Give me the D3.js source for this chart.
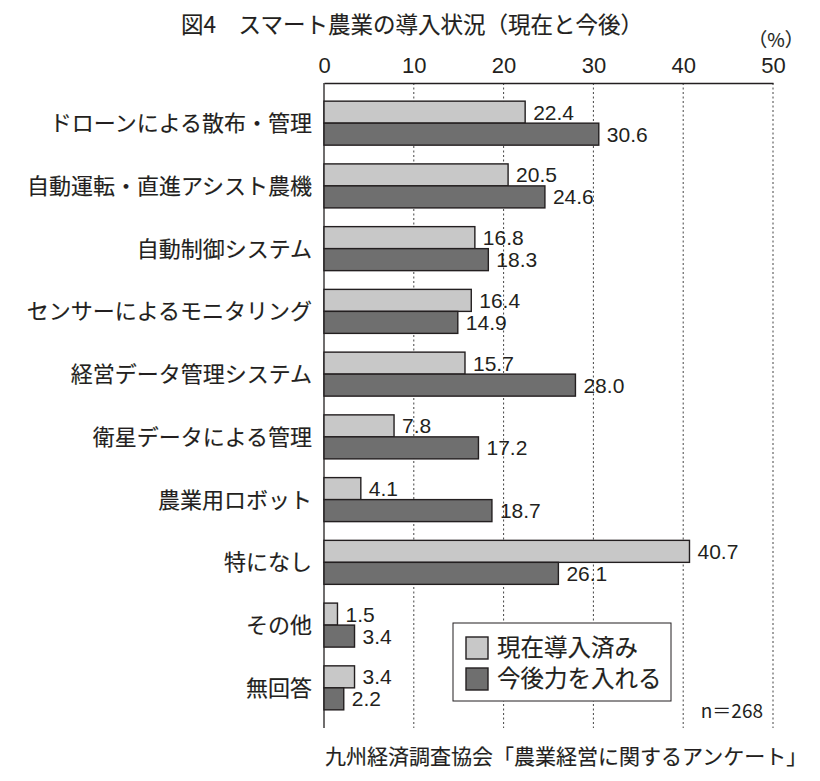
<!DOCTYPE html>
<html>
<head>
<meta charset="utf-8">
<script src="https://cdn.jsdelivr.net/npm/d3@7"></script>
<style>
  body { margin: 0; background: #fff; }
  text { fill: #231f20; }
  .jp { stroke: #231f20; stroke-width: 0.15px; }
</style>
</head>
<body>
<svg id="chart" width="820" height="781"></svg>
<script>
// categories, top to bottom
var categories = ["ドローンによる散布・管理", "自動運転・直進アシスト農機", "自動制御システム",
  "センサーによるモニタリング", "経営データ管理システム", "衛星データによる管理",
  "農業用ロボット", "特になし", "その他", "無回答"];
// 現在導入済み
var current = [22.4, 20.5, 16.8, 16.4, 15.7, 7.8, 4.1, 40.7, 1.5, 3.4];
// 今後力を入れる
var future = [30.6, 24.6, 18.3, 14.9, 28.0, 17.2, 18.7, 26.1, 3.4, 2.2];
var seriesNames = ["現在導入済み", "今後力を入れる"];
var tickValues = [0, 10, 20, 30, 40, 50];

var jp = "'Noto Sans CJK JP', sans-serif";
var num = "'Liberation Sans', Arial, sans-serif";
var colors = ["#c8c8c8", "#6f6f6f"];

var svg = d3.select("#chart");
// plot area edges
var plotLeft = 324, plotRight = 773, plotTop = 83, plotBottom = 728;

var x = d3.scaleLinear().domain([0, 50]).range([plotLeft, plotRight]);
var y = d3.scalePoint().domain(categories).range([plotTop, plotBottom]).padding(0.64);
var barH = 22;

// title
svg.append("text").attr("class", "jp")
  .attr("x", 412).attr("y", 33).attr("text-anchor", "middle")
  .style("font-family", jp).style("font-size", "22.5px")
  .text("図4　スマート農業の導入状況（現在と今後）");

svg.append("text").attr("class", "jp")
  .attr("x", 776).attr("y", 47).attr("text-anchor", "middle")
  .style("font-family", jp).style("font-size", "19px")
  .text("（%）");

// grid lines (dotted)
svg.append("g").selectAll("line")
  .data(tickValues.slice(1))
  .enter().append("line")
  .attr("x1", function(d){ return x(d); }).attr("x2", function(d){ return x(d); })
  .attr("y1", plotTop).attr("y2", plotBottom)
  .style("stroke", "#444").style("stroke-width", 1).style("stroke-dasharray", "2,2.5");

// top axis
var axis = svg.append("g")
  .attr("transform", "translate(0," + plotTop + ")")
  .call(d3.axisTop(x).tickValues(tickValues).tickSize(0).tickPadding(10));
axis.select(".domain").style("stroke", "#231f20").style("stroke-width", 1.3);
axis.selectAll("text")
  .style("font-family", num).style("font-size", "22px").style("fill", "#231f20");

// left vertical line
svg.append("line")
  .attr("x1", plotLeft).attr("x2", plotLeft).attr("y1", plotTop).attr("y2", plotBottom)
  .style("stroke", "#231f20").style("stroke-width", 1.3);

// bars
var groups = [current, future];
groups.forEach(function(vals, si){
  var g = svg.append("g");
  g.selectAll("rect")
    .data(vals)
    .enter().append("rect")
    .attr("x", x(0))
    .attr("y", function(d, i){ return y(categories[i]) - barH + si * barH; })
    .attr("width", function(d){ return x(d) - x(0); })
    .attr("height", barH)
    .style("fill", colors[si]).style("stroke", "#231f20").style("stroke-width", 1.4);
  g.selectAll("text")
    .data(vals)
    .enter().append("text")
    .attr("x", function(d){ return x(d) + 8; })
    .attr("y", function(d, i){ return y(categories[i]) - barH / 2 + si * barH; })
    .attr("dy", "0.36em")
    .style("font-family", num).style("font-size", "21px")
    .text(function(d){ return d.toFixed(1); });
});

// category labels
svg.append("g").selectAll("text")
  .data(categories)
  .enter().append("text").attr("class", "jp")
  .attr("x", 312)
  .attr("y", function(d){ return y(d); })
  .attr("dy", "0.36em")
  .attr("text-anchor", "end")
  .style("font-family", jp).style("font-size", "22px")
  .text(function(d){ return d; });

// legend
var lg = svg.append("g");
lg.append("rect")
  .attr("x", 453).attr("y", 623).attr("width", 218).attr("height", 78)
  .style("fill", "#fff").style("stroke", "#231f20").style("stroke-width", 1);
seriesNames.forEach(function(name, i){
  lg.append("rect")
    .attr("x", 466).attr("y", 637 + i * 31).attr("width", 22).attr("height", 22)
    .style("fill", colors[i]).style("stroke", "#231f20").style("stroke-width", 1.4);
  lg.append("text").attr("class", "jp")
    .attr("x", 497).attr("y", 648 + i * 31).attr("dy", "0.36em")
    .style("font-family", jp).style("font-size", "23.5px")
    .text(name);
});

svg.append("text")
  .attr("x", 763).attr("y", 718).attr("text-anchor", "end")
  .style("font-family", jp).style("font-size", "19px")
  .text("n＝268");

svg.append("text").attr("class", "jp")
  .attr("x", 325).attr("y", 764)
  .style("font-family", jp).style("font-size", "21px")
  .text("九州経済調査協会「農業経営に関するアンケート」");
</script>
</body>
</html>
